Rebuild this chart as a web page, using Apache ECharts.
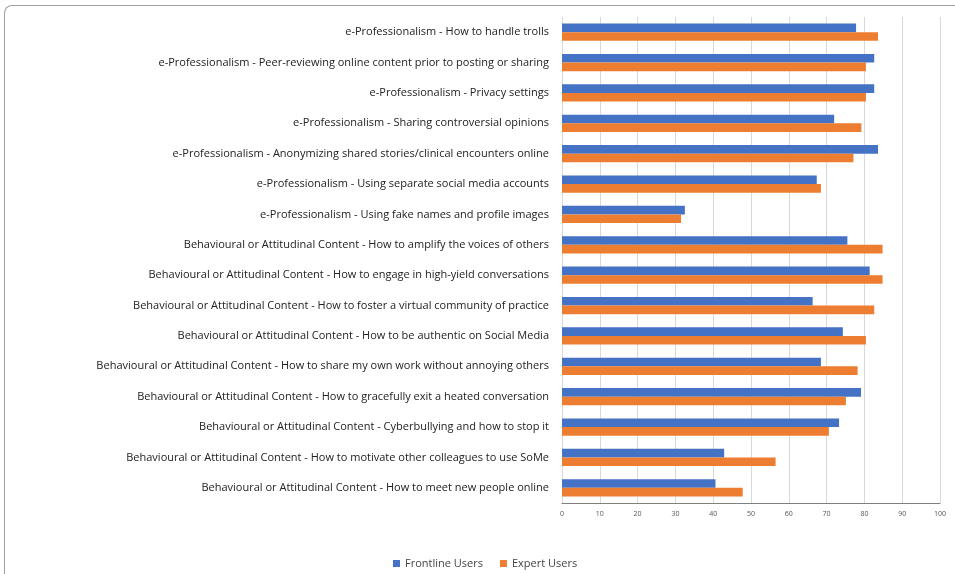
<!DOCTYPE html>
<html>
<head>
<meta charset="utf-8">
<script src="https://cdn.jsdelivr.net/npm/echarts@6/dist/echarts.min.js"></script>
<style>
html,body{margin:0;padding:0;background:#fff;}
#frame{position:absolute;left:4px;top:5px;width:960px;height:600px;border-top:1.5px solid #a0a0a0;border-left:1.5px solid #a0a0a0;border-top-left-radius:8px;}
#chart{position:absolute;left:0;top:0;width:955px;height:574px;}
</style>
</head>
<body>
<div id="frame"></div>
<div id="chart"></div>
<script>
const categories = [
  "e-Professionalism - How to handle trolls",
  "e-Professionalism - Peer-reviewing online content prior to posting or sharing",
  "e-Professionalism - Privacy settings",
  "e-Professionalism - Sharing controversial opinions",
  "e-Professionalism - Anonymizing shared stories/clinical encounters online",
  "e-Professionalism - Using separate social media accounts",
  "e-Professionalism - Using fake names and profile images",
  "Behavioural or Attitudinal Content - How to amplify the voices of others",
  "Behavioural or Attitudinal Content - How to engage in high-yield conversations",
  "Behavioural or Attitudinal Content - How to foster a virtual community of practice",
  "Behavioural or Attitudinal Content - How to be authentic on Social Media",
  "Behavioural or Attitudinal Content - How to share my own work without annoying others",
  "Behavioural or Attitudinal Content - How to gracefully exit a heated conversation",
  "Behavioural or Attitudinal Content - Cyberbullying and how to stop it",
  "Behavioural or Attitudinal Content - How to motivate other colleagues to use SoMe",
  "Behavioural or Attitudinal Content - How to meet new people online"
];
const frontlineUsers = [77.8, 82.6, 82.6, 72.0, 83.6, 67.4, 32.5, 75.5, 81.4, 66.3, 74.3, 68.5, 79.1, 73.3, 42.9, 40.6];
const expertUsers    = [83.6, 80.4, 80.4, 79.2, 77.1, 68.5, 31.5, 84.8, 84.8, 82.6, 80.4, 78.2, 75.1, 70.6, 56.5, 47.8];
const xTicks = [0, 10, 20, 30, 40, 50, 60, 70, 80, 90, 100];

const chart = echarts.init(document.getElementById('chart'), null, {renderer: 'canvas'});
chart.setOption({
  animation: false,
  textStyle: {fontFamily: 'Open Sans'},
  grid: {left: 562, right: 15, top: 17, bottom: 71, containLabel: false},
  legend: {
    top: 553, left: 388,
    data: ['Frontline Users', 'Expert Users'],
    itemWidth: 7, itemHeight: 7, itemGap: 17,
    icon: 'rect',
    textStyle: {fontSize: 11, color: '#444', fontFamily: 'Open Sans'}
  },
  xAxis: {
    type: 'value', min: xTicks[0], max: xTicks[xTicks.length - 1], interval: 10,
    axisLine: {show: true, lineStyle: {color: '#7f7f7f', width: 1}},
    axisTick: {show: false},
    splitLine: {show: true, lineStyle: {color: '#d9d9d9', width: 1}},
    axisLabel: {fontSize: 7, color: '#555', margin: 7}
  },
  yAxis: {
    type: 'category', data: categories, inverse: true,
    axisLine: {show: false},
    axisTick: {show: false},
    axisLabel: {fontSize: 11, color: '#222', margin: 13, fontFamily: 'Open Sans'}
  },
  series: [
    {name: 'Frontline Users', type: 'bar', data: frontlineUsers, barGap: '0%', barCategoryGap: '43%',
     itemStyle: {color: '#4472c4'}},
    {name: 'Expert Users', type: 'bar', data: expertUsers, barGap: '0%', barCategoryGap: '43%',
     itemStyle: {color: '#ed7d31'}}
  ]
});
</script>
</body>
</html>
